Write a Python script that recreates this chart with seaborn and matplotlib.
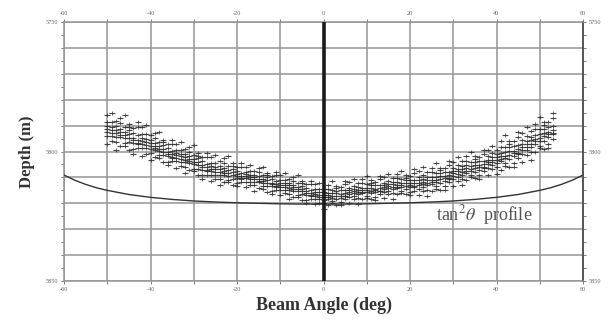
import numpy as np
import pandas as pd
import matplotlib
matplotlib.use("Agg")
import matplotlib.pyplot as plt
import seaborn as sns

# ---------------- data ----------------
port_outer_angles = [-50, -49, -48, -47, -46, -45, -44, -43, -42, -41,
                     -40, -39, -38, -37, -36, -35, -34, -33, -32, -31,
                     -30, -29, -28, -27, -26, -25, -24, -23, -22, -21]
port_outer_depths = [
    [5786.1, 5788.8, 5790.3, 5791.5, 5792.6, 5794.2, 5797.2],
    [5785.1, 5788.6, 5790.4, 5791.7, 5792.8, 5794.1, 5796.1],
    [5788.2, 5790.3, 5791.6, 5793.0, 5794.3, 5796.2, 5799.3],
    [5786.9, 5789.0, 5791.2, 5792.5, 5793.6, 5794.5, 5797.8],
    [5785.8, 5790.5, 5792.4, 5793.7, 5794.8, 5796.7, 5797.8],
    [5789.2, 5790.4, 5791.7, 5793.3, 5794.7, 5796.4, 5799.4],
    [5790.8, 5792.8, 5794.6, 5795.6, 5796.7, 5799.2, 5800.9],
    [5788.8, 5790.7, 5793.8, 5795.4, 5796.7, 5797.2, 5798.8],
    [5790.6, 5793.3, 5794.8, 5796.0, 5797.1, 5798.7, 5801.7],
    [5789.8, 5793.3, 5795.1, 5796.4, 5797.5, 5798.8, 5800.8],
    [5793.8, 5795.6, 5796.7, 5797.8, 5798.9, 5800.5, 5803.1],
    [5793.0, 5794.8, 5796.6, 5797.7, 5798.6, 5799.4, 5802.1],
    [5792.4, 5796.3, 5797.9, 5799.0, 5799.9, 5801.5, 5802.4],
    [5795.5, 5796.5, 5797.6, 5798.9, 5800.1, 5801.5, 5804.0],
    [5797.0, 5798.6, 5800.1, 5801.0, 5801.9, 5804.0, 5805.4],
    [5795.5, 5797.1, 5799.7, 5801.0, 5802.1, 5802.5, 5803.8],
    [5797.0, 5799.3, 5800.5, 5801.5, 5802.4, 5803.8, 5806.3],
    [5796.4, 5799.3, 5800.8, 5801.9, 5802.8, 5803.9, 5805.5],
    [5799.1, 5800.9, 5802.0, 5803.1, 5804.2, 5805.8, 5808.4],
    [5798.2, 5800.0, 5801.8, 5802.9, 5803.8, 5804.6, 5807.3],
    [5797.5, 5801.4, 5803.0, 5804.1, 5805.0, 5806.6, 5807.5],
    [5800.6, 5801.6, 5802.7, 5804.0, 5805.2, 5806.6, 5809.1],
    [5802.1, 5803.7, 5805.2, 5806.1, 5807.0, 5809.1, 5810.5],
    [5800.6, 5802.2, 5804.8, 5806.1, 5807.2, 5807.6, 5808.9],
    [5802.2, 5804.5, 5805.7, 5806.7, 5807.6, 5809.0, 5811.5],
    [5801.4, 5804.3, 5805.8, 5806.9, 5807.8, 5808.9, 5810.5],
    [5803.8, 5805.6, 5806.7, 5807.8, 5808.9, 5810.5, 5813.1],
    [5802.7, 5804.5, 5806.3, 5807.4, 5808.3, 5809.1, 5811.8],
    [5801.8, 5805.7, 5807.3, 5808.4, 5809.3, 5810.9, 5811.8],
    [5804.5, 5805.5, 5806.6, 5807.9, 5809.1, 5810.5, 5813.0],
]

port_inner_angles = [-20, -19, -18, -17, -16, -15, -14, -13, -12, -11,
                     -10, -9, -8, -7, -6, -5, -4, -3, -2, -1]
port_inner_depths = [
    [5806.1, 5807.5, 5808.8, 5809.5, 5810.3, 5812.1, 5813.3],
    [5804.6, 5806.0, 5808.2, 5809.3, 5810.3, 5810.6, 5811.7],
    [5805.8, 5807.8, 5808.8, 5809.6, 5810.4, 5811.6, 5813.7],
    [5805.2, 5807.7, 5808.9, 5809.9, 5810.6, 5811.6, 5812.9],
    [5807.4, 5808.9, 5809.8, 5810.8, 5811.7, 5813.1, 5815.3],
    [5806.5, 5808.0, 5809.6, 5810.5, 5811.3, 5811.9, 5814.2],
    [5805.8, 5809.1, 5810.5, 5811.4, 5812.2, 5813.5, 5814.3],
    [5808.2, 5809.1, 5810.0, 5811.1, 5812.2, 5813.3, 5815.5],
    [5809.3, 5810.7, 5812.0, 5812.7, 5813.5, 5815.3, 5816.5],
    [5807.8, 5809.2, 5811.4, 5812.5, 5813.5, 5813.8, 5814.9],
    [5809.0, 5811.0, 5812.0, 5812.8, 5813.6, 5814.8, 5816.9],
    [5808.4, 5810.9, 5812.1, 5813.1, 5813.8, 5814.8, 5816.1],
    [5810.6, 5812.1, 5813.0, 5814.0, 5814.9, 5816.3, 5818.5],
    [5809.7, 5811.2, 5812.8, 5813.7, 5814.5, 5815.1, 5817.4],
    [5809.0, 5812.3, 5813.7, 5814.6, 5815.4, 5816.7, 5817.5],
    [5811.4, 5812.3, 5813.2, 5814.3, 5815.4, 5816.5, 5818.7],
    [5812.6, 5814.0, 5815.3, 5816.0, 5816.8, 5818.6, 5819.8],
    [5811.2, 5812.6, 5814.8, 5815.9, 5816.9, 5817.2, 5818.3],
    [5812.5, 5814.5, 5815.5, 5816.3, 5817.1, 5818.3, 5820.4],
    [5812.0, 5814.5, 5815.7, 5816.7, 5817.4, 5818.4, 5819.7],
]

stbd_inner_angles = [0, 1, 2, 3, 4, 5, 6, 7, 8, 9, 10,
                     11, 12, 13, 14, 15, 16, 17, 18, 19, 20]
stbd_inner_depths = [
    [5814.3, 5815.8, 5816.7, 5817.7, 5818.6, 5820.0, 5822.2],
    [5812.8, 5814.3, 5815.9, 5816.8, 5817.6, 5818.2, 5820.5],
    [5811.5, 5814.8, 5816.2, 5817.1, 5817.9, 5819.2, 5820.0],
    [5813.3, 5814.2, 5815.1, 5816.2, 5817.3, 5818.4, 5820.6],
    [5813.6, 5815.0, 5816.3, 5817.0, 5817.8, 5819.6, 5820.8],
    [5811.3, 5812.7, 5814.9, 5816.0, 5817.0, 5817.3, 5818.4],
    [5811.9, 5813.9, 5814.9, 5815.7, 5816.5, 5817.7, 5819.8],
    [5810.7, 5813.2, 5814.4, 5815.4, 5816.1, 5817.1, 5818.4],
    [5812.3, 5813.8, 5814.7, 5815.7, 5816.6, 5818.0, 5820.2],
    [5810.8, 5812.3, 5813.9, 5814.8, 5815.6, 5816.2, 5818.5],
    [5809.4, 5812.7, 5814.1, 5815.0, 5815.8, 5817.1, 5817.9],
    [5811.1, 5812.0, 5812.9, 5814.0, 5815.1, 5816.2, 5818.4],
    [5811.6, 5813.0, 5814.3, 5815.0, 5815.8, 5817.6, 5818.8],
    [5809.4, 5810.8, 5813.0, 5814.1, 5815.1, 5815.4, 5816.5],
    [5810.0, 5812.0, 5813.0, 5813.8, 5814.6, 5815.8, 5817.9],
    [5808.8, 5811.3, 5812.5, 5813.5, 5814.2, 5815.2, 5816.5],
    [5810.3, 5811.8, 5812.7, 5813.7, 5814.6, 5816.0, 5818.2],
    [5808.8, 5810.3, 5811.9, 5812.8, 5813.6, 5814.2, 5816.5],
    [5807.4, 5810.7, 5812.1, 5813.0, 5813.8, 5815.1, 5815.9],
    [5809.2, 5810.1, 5811.0, 5812.1, 5813.2, 5814.3, 5816.5],
    [5809.6, 5811.0, 5812.3, 5813.0, 5813.8, 5815.6, 5816.8],
]

stbd_outer_angles = [21, 22, 23, 24, 25, 26, 27, 28, 29, 30,
                     31, 32, 33, 34, 35, 36, 37, 38, 39, 40,
                     41, 42, 43, 44, 45, 46, 47, 48, 49, 50, 51, 52, 53]
stbd_outer_depths = [
    [5806.8, 5808.4, 5811.0, 5812.3, 5813.4, 5813.8, 5815.1],
    [5807.5, 5809.8, 5811.0, 5812.0, 5812.9, 5814.3, 5816.8],
    [5806.1, 5809.0, 5810.5, 5811.6, 5812.5, 5813.6, 5815.2],
    [5808.0, 5809.8, 5810.9, 5812.0, 5813.1, 5814.7, 5817.3],
    [5806.2, 5808.0, 5809.8, 5810.9, 5811.8, 5812.6, 5815.3],
    [5804.4, 5808.3, 5809.9, 5811.0, 5811.9, 5813.5, 5814.4],
    [5806.2, 5807.2, 5808.3, 5809.6, 5810.8, 5812.2, 5814.7],
    [5806.4, 5808.0, 5809.5, 5810.4, 5811.3, 5813.4, 5814.8],
    [5803.6, 5805.2, 5807.8, 5809.1, 5810.2, 5810.6, 5811.9],
    [5803.9, 5806.2, 5807.4, 5808.4, 5809.3, 5810.7, 5813.2],
    [5802.2, 5805.1, 5806.6, 5807.7, 5808.6, 5809.7, 5811.3],
    [5803.8, 5805.6, 5806.7, 5807.8, 5808.9, 5810.5, 5813.1],
    [5801.8, 5803.6, 5805.4, 5806.5, 5807.4, 5808.2, 5810.9],
    [5800.0, 5803.9, 5805.5, 5806.6, 5807.5, 5809.1, 5810.0],
    [5801.9, 5802.9, 5804.0, 5805.3, 5806.5, 5807.9, 5810.4],
    [5802.1, 5803.7, 5805.2, 5806.1, 5807.0, 5809.1, 5810.5],
    [5799.3, 5800.9, 5803.5, 5804.8, 5805.9, 5806.3, 5807.6],
    [5799.6, 5801.9, 5803.1, 5804.1, 5805.0, 5806.4, 5808.9],
    [5797.8, 5800.7, 5802.2, 5803.3, 5804.2, 5805.3, 5806.9],
    [5799.3, 5801.1, 5802.2, 5803.3, 5804.4, 5806.0, 5808.6],
    [5796.1, 5798.2, 5800.4, 5801.7, 5802.8, 5803.7, 5807.0],
    [5793.7, 5798.4, 5800.3, 5801.6, 5802.7, 5804.6, 5805.7],
    [5795.8, 5797.0, 5798.3, 5799.9, 5801.3, 5803.0, 5806.0],
    [5795.9, 5797.9, 5799.7, 5800.7, 5801.8, 5804.3, 5806.0],
    [5792.5, 5794.4, 5797.5, 5799.1, 5800.4, 5800.9, 5802.5],
    [5792.8, 5795.5, 5797.0, 5798.2, 5799.3, 5800.9, 5803.9],
    [5790.5, 5794.0, 5795.8, 5797.1, 5798.2, 5799.5, 5801.5],
    [5792.2, 5794.3, 5795.6, 5797.0, 5798.3, 5800.2, 5803.3],
    [5789.4, 5791.5, 5793.7, 5795.0, 5796.1, 5797.0, 5800.3],
    [5786.8, 5791.5, 5793.4, 5794.7, 5795.8, 5797.7, 5798.8],
    [5788.7, 5789.9, 5791.2, 5792.8, 5794.2, 5795.9, 5798.9],
    [5788.6, 5790.6, 5792.4, 5793.4, 5794.5, 5797.0, 5798.7],
    [5785.0, 5786.9, 5790.0, 5791.6, 5792.9, 5793.4, 5795.0],
]

# tan^2(theta) profile (depth)
profile_angles = [-60, -57.5, -55, -52.5, -50, -45, -40, -35, -30, -25, -20, -15, -10, -5, 0,
                  5, 10, 15, 20, 25, 30, 35, 40, 45, 50, 52.5, 55, 57.5, 60]
profile_depths = [5809.1, 5811.1, 5812.7, 5814.0, 5815.0, 5816.6, 5817.7, 5818.5, 5819.1,
                  5819.5, 5819.8, 5820.0, 5820.2, 5820.3, 5820.3,
                  5820.3, 5820.2, 5820.0, 5819.8, 5819.5, 5819.1, 5818.5, 5817.7,
                  5816.6, 5815.0, 5814.0, 5812.7, 5811.1, 5809.1]

x_major = [-60, -40, -20, 0, 20, 40, 60]
y_labels = [5750, 5800, 5850]

# ---------------- build table ----------------
rows_x, rows_y = [], []
for angs, deps in [(port_outer_angles, port_outer_depths),
                   (port_inner_angles, port_inner_depths),
                   (stbd_inner_angles, stbd_inner_depths),
                   (stbd_outer_angles, stbd_outer_depths)]:
    for a, ds in zip(angs, deps):
        for d in ds:
            rows_x.append(a)
            rows_y.append(d)
soundings = pd.DataFrame({"angle": rows_x, "depth": rows_y})
profile = pd.DataFrame({"angle": profile_angles, "depth": profile_depths})

# ---------------- plot ----------------
sns.set_theme(style="white")
plt.rcParams["font.family"] = ["Liberation Serif", "DejaVu Serif"]
plt.rcParams["mathtext.fontset"] = "stix"

fig = plt.figure(figsize=(6.15, 3.24), dpi=100)
ax = fig.add_axes([64 / 615, 1 - 281 / 324, (583 - 64) / 615, (281 - 22) / 324])

grid_c = "#959595"
for v in range(-60, 61, 10):
    ax.axvline(v, color=grid_c, lw=1.1, zorder=0)
for v in range(5750, 5851, 10):
    ax.axhline(v, color=grid_c, lw=1.1, zorder=0)

sns.scatterplot(data=soundings, x="angle", y="depth", ax=ax, marker="_", s=16,
                color="#2b2b2b", linewidth=0.85, alpha=0.85, legend=False, zorder=2)
sns.scatterplot(data=soundings, x="angle", y="depth", ax=ax, marker="|", s=7,
                color="#2b2b2b", linewidth=0.7, alpha=0.7, legend=False, zorder=2)
sns.lineplot(data=profile, x="angle", y="depth", ax=ax, color="#333333", lw=1.0,
             legend=False, zorder=3)
ax.axvline(0, color="#1a1a1a", lw=2.6, zorder=4)

ax.set_xlim(-60, 60)
ax.set_ylim(5850, 5750)

ax.set_xticks(x_major)
ax.set_xticklabels([str(v) for v in x_major])
ax.set_xticks(list(range(-50, 60, 20)), minor=True)
ax.set_yticks(y_labels)
ax.set_yticklabels([str(v) for v in y_labels])
ax.set_yticks([v for v in range(5755, 5850, 5) if v not in y_labels], minor=True)

ax.tick_params(which="both", direction="out", top=True, right=True, bottom=True, left=True,
               labeltop=True, labelright=True, colors="#666666", labelsize=4.5,
               length=2, width=0.6, pad=2)
for side in ["left", "top", "bottom"]:
    ax.spines[side].set_color(grid_c)
    ax.spines[side].set_linewidth(1.1)
ax.spines["right"].set_color("#555555")
ax.spines["right"].set_linewidth(1.4)

ax.set_xlabel("Beam Angle (deg)", fontsize=13, fontweight="bold", color="#333333", labelpad=4)
ax.set_ylabel("Depth (m)", fontsize=12, fontweight="bold", color="#333333", labelpad=8)

ax.text(26, 5824.5, r"tan$^2\theta$  profile", fontsize=13, color="#555555",
        va="center", ha="left", zorder=5)

fig.savefig("out.png", dpi=100)
